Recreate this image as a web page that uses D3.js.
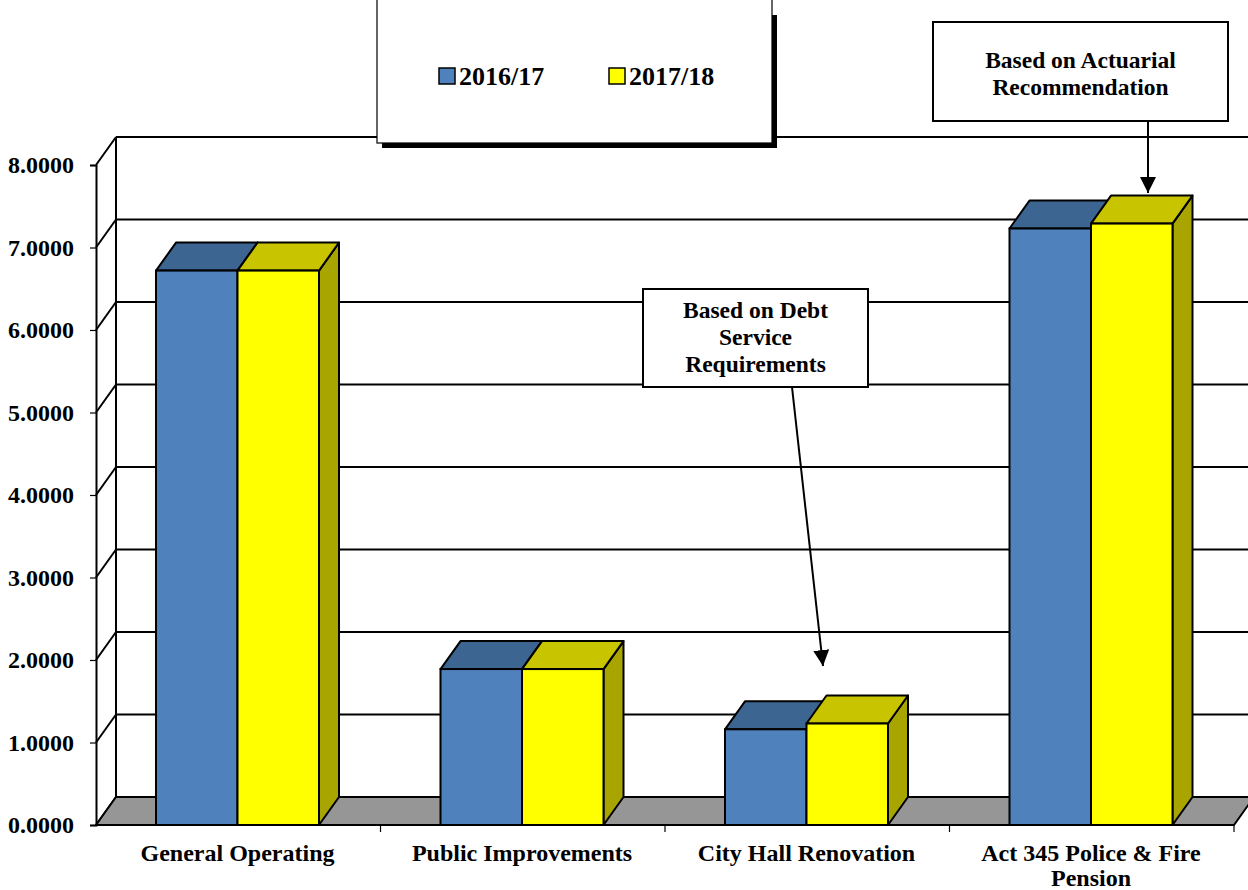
<!DOCTYPE html>
<html>
<head>
<meta charset="utf-8">
<script src="https://cdn.jsdelivr.net/npm/d3@7"></script>
<style>
  html, body { margin: 0; padding: 0; background: #fff; }
  svg { display: block; }
  text { font-family: "Liberation Serif", "Times New Roman", serif; font-weight: bold; fill: #000; }
</style>
</head>
<body>
<svg id="chart" width="1248" height="890"></svg>
<script>
// ---- data ----
const categories = ["General Operating", "Public Improvements", "City Hall Renovation", "Act 345 Police & Fire Pension"];
const categoryLines = [["General Operating"], ["Public Improvements"], ["City Hall Renovation"], ["Act 345 Police & Fire", "Pension"]];
const seriesNames = ["2016/17", "2017/18"];
const values2016 = [6.72, 1.89, 1.16, 7.23];
const values2017 = [6.72, 1.89, 1.23, 7.29];
const yTicks = [0, 1, 2, 3, 4, 5, 6, 7, 8];
const annotationActuarial = ["Based on Actuarial", "Recommendation"];
const annotationDebt = ["Based on Debt", "Service", "Requirements"];

// ---- layout ----
const svg = d3.select("#chart");
const plotL = 96, plotR = 1234, plotB = 825, plotT = 165;
const dx = 20, dy = -28;
const y = d3.scaleLinear().domain([0, 8]).range([plotB, plotT]);
const x0 = d3.scaleBand().domain(categories).range([plotL, plotR]).padding(0);
const bw = x0.bandwidth();
const x1 = d3.scaleBand().domain(seriesNames).range([60, 223]).padding(0);
const colors = {
  "2016/17": { front: "#4F81BD", top: "#3D6591", side: "#345A85" },
  "2017/18": { front: "#FFFF00", top: "#C8C400", side: "#A8A400" }
};
const sw = 2;

// grid on back wall + side wall
const gGrid = svg.append("g");
yTicks.forEach(t => {
  const yf = y(t), yb = y(t) + dy;
  if (t > 0) {
    gGrid.append("line").attr("x1", plotL + dx).attr("x2", 1250).attr("y1", yb).attr("y2", yb)
      .attr("stroke", "#000").attr("stroke-width", sw);
  }
  gGrid.append("line").attr("x1", plotL).attr("y1", yf).attr("x2", plotL + dx).attr("y2", yb)
    .attr("stroke", "#000").attr("stroke-width", sw);
});
gGrid.append("line").attr("x1", plotL + dx).attr("x2", plotL + dx).attr("y1", y(8) + dy).attr("y2", y(0) + dy)
  .attr("stroke", "#000").attr("stroke-width", sw);

// floor
svg.append("path")
  .attr("d", `M${plotL},${plotB} L${plotL + dx},${plotB + dy} L${plotR + dx},${plotB + dy} L${plotR},${plotB} Z`)
  .attr("fill", "#969696").attr("stroke", "#000").attr("stroke-width", sw);

// y axis (front)
const yAxis = d3.axisLeft(y).tickValues(yTicks).tickFormat(d3.format(".4f")).tickSize(6).tickPadding(16);
const gY = svg.append("g").attr("transform", `translate(${plotL},0)`).call(yAxis);
gY.select(".domain").attr("stroke", "#000").attr("stroke-width", sw);
gY.selectAll(".tick line").attr("stroke", "#000").attr("stroke-width", 1.2);
gY.selectAll(".tick text").attr("font-size", 24).attr("font-family", "Liberation Serif").attr("font-weight", "bold").attr("fill", "#000");

// bars
const data = [];
categories.forEach((c, i) => {
  data.push({ cat: c, s: "2016/17", v: values2016[i] });
  data.push({ cat: c, s: "2017/18", v: values2017[i] });
});
const gBars = svg.append("g");
data.forEach(d => {
  const xa = x0(d.cat) + x1(d.s), xb = xa + x1.bandwidth();
  const yt = y(d.v), yb0 = y(0);
  const c = colors[d.s];
  const g = gBars.append("g");
  g.append("path").attr("d", `M${xb},${yt} L${xb + dx},${yt + dy} L${xb + dx},${yb0 + dy} L${xb},${yb0} Z`)
    .attr("fill", c.side).attr("stroke", "#000").attr("stroke-width", sw).attr("stroke-linejoin", "round");
  g.append("path").attr("d", `M${xa},${yt} L${xa + dx},${yt + dy} L${xb + dx},${yt + dy} L${xb},${yt} Z`)
    .attr("fill", c.top).attr("stroke", "#000").attr("stroke-width", sw).attr("stroke-linejoin", "round");
  g.append("rect").attr("x", xa).attr("y", yt).attr("width", xb - xa).attr("height", yb0 - yt)
    .attr("fill", c.front).attr("stroke", "#000").attr("stroke-width", sw);
});

// bottom axis line and ticks
svg.append("line").attr("x1", plotL).attr("x2", plotR).attr("y1", plotB).attr("y2", plotB)
  .attr("stroke", "#000").attr("stroke-width", sw);
categories.forEach(c => {
  const xt = x0(c) + bw;
  svg.append("line").attr("x1", xt).attr("x2", xt).attr("y1", plotB).attr("y2", plotB + 7)
    .attr("stroke", "#000").attr("stroke-width", 1.2);
});
categories.forEach((c, i) => {
  const cx = x0(c) + x1.range()[0] + (x1.range()[1] - x1.range()[0]) / 2;
  const t = svg.append("text").attr("x", cx).attr("y", 861)
    .attr("text-anchor", "middle").attr("font-size", 24);
  categoryLines[i].forEach((ln, j) => {
    t.append("tspan").attr("x", cx).attr("dy", j === 0 ? 0 : 25).text(ln);
  });
});

// legend
const lg = svg.append("g");
lg.append("rect").attr("x", 382).attr("y", 15).attr("width", 395).attr("height", 133).attr("fill", "#000");
lg.append("rect").attr("x", 377).attr("y", -5).attr("width", 395).attr("height", 148)
  .attr("fill", "#fff").attr("stroke", "#000").attr("stroke-width", 1.2);
const legendX = [439, 609];
seriesNames.forEach((s, i) => {
  lg.append("rect").attr("x", legendX[i]).attr("y", 68).attr("width", 16).attr("height", 16)
    .attr("fill", colors[s].front).attr("stroke", "#000").attr("stroke-width", 1.5);
  lg.append("text").attr("x", legendX[i] + 20).attr("y", 85).attr("font-size", 26).text(s);
});

// annotations
svg.append("defs").append("marker").attr("id", "arrow").attr("viewBox", "0 0 10 10")
  .attr("refX", 10).attr("refY", 5).attr("markerWidth", 16).attr("markerHeight", 16)
  .attr("markerUnits", "userSpaceOnUse").attr("orient", "auto")
  .append("path").attr("d", "M0,0 L10,5 L0,10 Z").attr("fill", "#000");

function annotation(box, lines, baseline0, lineH, from, to) {
  svg.append("rect").attr("x", box[0]).attr("y", box[1]).attr("width", box[2]).attr("height", box[3])
    .attr("fill", "#fff").attr("stroke", "#000").attr("stroke-width", 2);
  const t = svg.append("text").attr("text-anchor", "middle").attr("font-size", 23.5);
  lines.forEach((ln, j) => {
    t.append("tspan").attr("x", box[0] + box[2] / 2).attr("y", baseline0 + j * lineH).text(ln);
  });
  svg.append("line").attr("x1", from[0]).attr("y1", from[1]).attr("x2", to[0]).attr("y2", to[1])
    .attr("stroke", "#000").attr("stroke-width", 2).attr("marker-end", "url(#arrow)");
}
annotation([933, 22, 295, 99], annotationActuarial, 68, 27, [1148, 121], [1148, 193]);
annotation([643, 289, 225, 98], annotationDebt, 318, 27, [792, 387], [823, 666]);
</script>
</body>
</html>
